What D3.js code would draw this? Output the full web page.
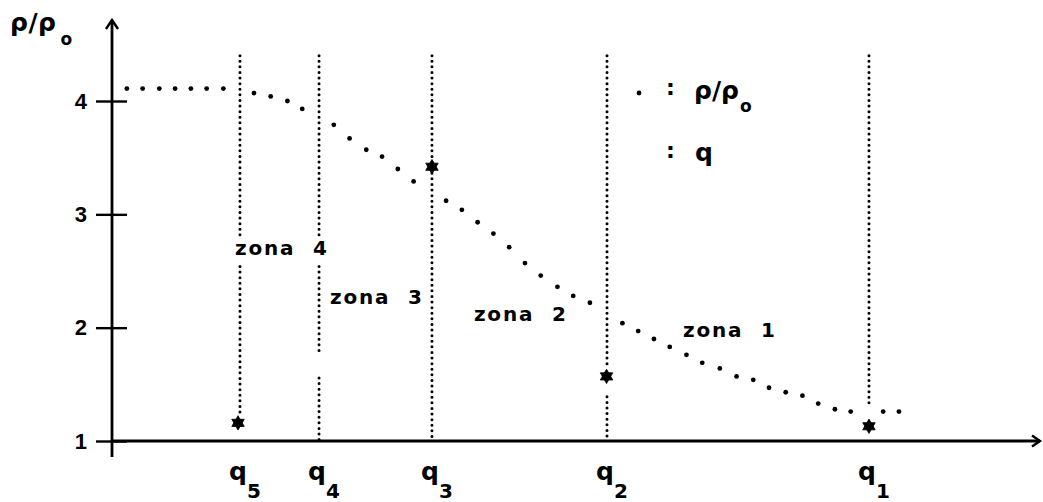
<!DOCTYPE html>
<html>
<head>
<meta charset="utf-8">
<script src="https://cdn.jsdelivr.net/npm/d3@7"></script>
<style>
  body { margin: 0; background: #fff; }
  svg text { fill: #000; }
</style>
</head>
<body>
<svg id="chart" width="1043" height="502"></svg>
<script>
// ---- data ----
const yTicks = [1, 2, 3, 4];

// positions of the five q stations along the horizontal axis (arbitrary units)
const qSubs = ["5", "4", "3", "2", "1"];
const qPos  = [13.79, 22.31, 34.48, 53.34, 81.57];

// q values (stars)
const starSubs = ["5", "3", "2", "1"];
const starX    = [13.58, 34.48, 53.29, 81.57];
const starVal  = [1.16, 3.42, 1.57, 1.13];

// rho / rho_o profile (dotted curve)
const curveX = [1.6, 3.3, 5.1, 6.8, 8.5, 10.2, 12.0,
                15.3, 17.1, 18.9, 20.5,
                23.9, 25.6, 27.4, 29.1, 30.8, 32.5,
                36.0, 37.7, 39.4, 41.1, 42.8, 44.5, 46.2, 48.0, 49.7, 51.5,
                55.0, 56.7, 58.4, 60.1, 61.9, 63.6, 65.5, 67.3, 69.1, 70.8,
                72.6, 74.4, 76.1, 77.9, 79.6, 83.1, 84.8];
const curveY = [4.11, 4.11, 4.11, 4.11, 4.11, 4.11, 4.11,
                4.07, 4.04, 4.00, 3.93,
                3.79, 3.67, 3.57, 3.51, 3.40, 3.29,
                3.12, 3.04, 2.93, 2.83, 2.71, 2.57, 2.46, 2.36, 2.28, 2.22,
                2.04, 1.97, 1.90, 1.83, 1.76, 1.69, 1.64, 1.57, 1.54, 1.47,
                1.43, 1.40, 1.33, 1.28, 1.26, 1.26, 1.26];

const zoneNames = ["zona 4", "zona 3", "zona 2", "zona 1"];

// ---- layout ----
const svg = d3.select("#chart");
const x = d3.scaleLinear().domain([0, 100]).range([112, 1040]);
const y = d3.scaleLinear().domain([1, 4]).range([441, 101]);

const BOLD = "'DejaVu Sans', sans-serif";

// vertical station lines, drawn in pieces so labels and stars sit in the gaps
const stationSegments = [
  [[4.40, 2.81], [2.54, 1.23]],
  [[4.40, 2.81], [2.54, 1.785], [1.556, 1.0]],
  [[4.40, 1.0]],
  [[4.40, 1.66], [1.39, 1.0]],
  [[4.40, 1.29]]
];
const stations = svg.append("g");
qPos.forEach((qx, i) => {
  stationSegments[i].forEach(([a, b]) => {
    stations.append("line")
      .attr("x1", x(qx)).attr("x2", x(qx))
      .attr("y1", y(a)).attr("y2", y(b))
      .attr("stroke", "#000")
      .attr("stroke-width", 3)
      .attr("stroke-linecap", "round")
      .attr("stroke-dasharray", "0 5.6");
  });
});

// axes
const axisG = svg.append("g");
axisG.append("line")
  .attr("x1", x(0)).attr("x2", 1040)
  .attr("y1", y(1)).attr("y2", y(1))
  .attr("stroke", "#000").attr("stroke-width", 2.8);
axisG.append("path")
  .attr("d", `M1032,435.5 L1040,${y(1)} L1032,446.5`)
  .attr("fill", "none").attr("stroke", "#000").attr("stroke-width", 2.4);
axisG.append("line")
  .attr("x1", x(0)).attr("x2", x(0))
  .attr("y1", y(1) + 16).attr("y2", 20)
  .attr("stroke", "#000").attr("stroke-width", 2.8);
axisG.append("path")
  .attr("d", `M${x(0) - 6},29 L${x(0)},20 L${x(0) + 6},29`)
  .attr("fill", "none").attr("stroke", "#000").attr("stroke-width", 2.4);

const yAxis = d3.axisLeft(y).tickValues(yTicks).tickSize(16).tickPadding(10)
  .tickFormat(d3.format("d"));
const yG = svg.append("g").attr("transform", `translate(${x(0)},0)`).call(yAxis);
yG.select(".domain").remove();
yG.selectAll(".tick line")
  .attr("x1", -16).attr("x2", 15)
  .attr("stroke", "#000").attr("stroke-width", 2.4);
yG.selectAll(".tick text")
  .attr("x", -25)
  .style("font-family", "'Liberation Sans', Arial, sans-serif")
  .style("font-weight", "bold")
  .style("font-size", "22px")
  .attr("fill", "#000");

// y axis title  ρ/ρo
const yTitle = svg.append("text")
  .attr("x", 10).attr("y", 31)
  .style("font-family", BOLD).style("font-weight", "bold")
  .style("font-size", "25px").style("letter-spacing", "0.5px");
yTitle.append("tspan").text("ρ/ρ");
yTitle.append("tspan").attr("dx", 4).attr("dy", 14)
  .style("font-size", "17px").style("letter-spacing", "0").text("o");

// dotted rho curve
svg.append("g").selectAll("circle")
  .data(curveX.map((cx, i) => [cx, curveY[i]]))
  .join("circle")
  .attr("cx", d => x(d[0])).attr("cy", d => y(d[1]))
  .attr("r", 2.4).attr("fill", "#000");

// q stars (six-pointed)
function hexagram(r) {
  const pt = a => [r * Math.cos(a * Math.PI / 180), r * Math.sin(a * Math.PI / 180)];
  const tri = angs => "M" + angs.map(a => pt(a).map(v => v.toFixed(2)).join(",")).join("L") + "Z";
  return tri([-90, 30, 150]) + tri([90, 210, 330]);
}
svg.append("g").selectAll("path")
  .data(starX.map((sx, i) => [sx, starVal[i]]))
  .join("path")
  .attr("transform", d => `translate(${x(d[0])},${y(d[1])})`)
  .attr("d", hexagram(7.2))
  .attr("fill", "#000")
  .attr("stroke", "#000").attr("stroke-width", 0.8).attr("stroke-linejoin", "round");

// zone labels
const zoneAnchor = [[13.25, 2.64], [23.49, 2.21], [39.0, 2.06], [61.53, 1.92]];
svg.append("g").selectAll("text")
  .data(zoneNames)
  .join("text")
  .attr("x", (d, i) => x(zoneAnchor[i][0]))
  .attr("y", (d, i) => y(zoneAnchor[i][1]))
  .style("font-family", BOLD).style("font-weight", "bold")
  .style("font-size", "20px")
  .style("letter-spacing", "1.8px")
  .style("word-spacing", "9px")
  .attr("xml:space", "preserve")
  .text(d => d);

// q labels under the axis
const qLab = svg.append("g").selectAll("text")
  .data(qSubs)
  .join("text")
  .attr("x", (d, i) => x(qPos[i]) - 11)
  .attr("y", 480)
  .style("font-family", BOLD).style("font-weight", "bold")
  .style("font-size", "25px");
qLab.append("tspan").text("q");
qLab.append("tspan").attr("dx", 0).attr("dy", 18)
  .style("font-size", "20px").text(d => d);

// legend
const leg = svg.append("g");
leg.append("circle").attr("cx", 639).attr("cy", 93).attr("r", 2.4).attr("fill", "#000");
leg.append("text").attr("x", 666).attr("y", 95)
  .style("font-family", BOLD).style("font-weight", "bold").style("font-size", "22px").text(":");
const legT = leg.append("text").attr("x", 694).attr("y", 99)
  .style("font-family", BOLD).style("font-weight", "bold")
  .style("font-size", "25px").style("letter-spacing", "0px");
legT.append("tspan").text("ρ/ρ");
legT.append("tspan").attr("dx", 1).attr("dy", 13)
  .style("font-size", "17px").text("o");
leg.append("text").attr("x", 666).attr("y", 158)
  .style("font-family", BOLD).style("font-weight", "bold").style("font-size", "22px").text(":");
leg.append("text").attr("x", 695).attr("y", 161)
  .style("font-family", BOLD).style("font-weight", "bold").style("font-size", "25px").text("q");
</script>
</body>
</html>
